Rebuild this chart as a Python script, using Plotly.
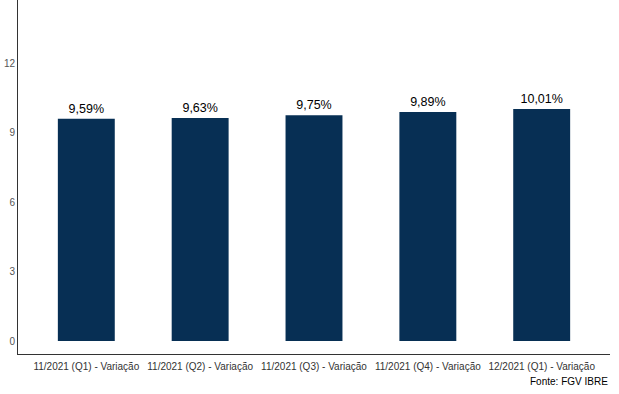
import plotly.graph_objects as go

categories = ["11/2021 (Q1) - Variação", "11/2021 (Q2) - Variação", "11/2021 (Q3) - Variação",
              "11/2021 (Q4) - Variação", "12/2021 (Q1) - Variação"]
values = [9.59, 9.63, 9.75, 9.89, 10.01]
labels = ["9,59%", "9,63%", "9,75%", "9,89%", "10,01%"]
y_ticks = [0, 3, 6, 9, 12]

fig = go.Figure(go.Bar(
    x=categories, y=values, text=labels, textposition="outside",
    textfont=dict(size=12.5, color="black", family="Liberation Sans, Arial"),
    marker=dict(color="#072f54", line=dict(width=0)), width=0.5, cliponaxis=False,
))
fig.update_layout(
    width=619, height=394, plot_bgcolor="white", paper_bgcolor="white",
    margin=dict(l=18, r=9, t=0, b=40), showlegend=False,
    font=dict(family="Liberation Sans, Arial"),
    xaxis=dict(range=[-0.6, 4.6], showline=True, linecolor="#333", linewidth=1,
               ticks="outside", ticklen=3, tickcolor="rgba(0,0,0,0)",
               tickfont=dict(size=10, color="#333"), showgrid=False,
               automargin=False),
    yaxis=dict(range=[-0.56, 14.72], tickvals=y_ticks, showline=True, linecolor="#333",
               linewidth=1, ticks="", tickfont=dict(size=10, color="#555"),
               showgrid=False, zeroline=False, automargin=False),
    annotations=[dict(text="Fonte: FGV IBRE", x=1, xref="paper", xanchor="right",
                      y=-0.078, yref="paper", yanchor="middle", showarrow=False,
                      font=dict(size=10, color="black"))],
)
fig.write_html("out.html", post_script="document.body.style.margin='0';",
               config={"displayModeBar": False})
